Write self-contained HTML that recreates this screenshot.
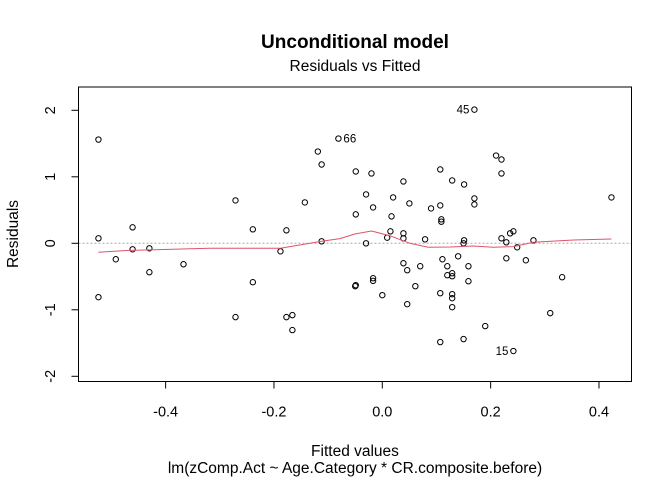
<!DOCTYPE html>
<html><head><meta charset="utf-8"><style>
body{margin:0;background:#fff;}
svg text{font-family:"Liberation Sans",Arial,sans-serif;fill:#000;}
</style></head><body>
<svg id="chart" width="672" height="480" viewBox="0 0 672 480">
<rect x="0" y="0" width="672" height="480" fill="#fff"/>
<text x="355" y="48" text-anchor="middle" font-size="19" font-weight="bold">Unconditional model</text>
<text x="355" y="71" text-anchor="middle" font-size="15.5">Residuals vs Fitted</text>
<text x="355" y="456" text-anchor="middle" font-size="15.5">Fitted values</text>
<text x="355" y="473" text-anchor="middle" font-size="15.5">lm(zComp.Act ~ Age.Category * CR.composite.before)</text>
<text transform="translate(18,234) rotate(-90)" text-anchor="middle" font-size="15.5">Residuals</text>
<g id="axes"></g>
<g id="marks"></g>
</svg>
<script>
const fittedX=[-0.524,-0.524,-0.524,-0.492,-0.461,-0.461,-0.430,-0.430,-0.367,-0.271,-0.271,-0.239,-0.239,-0.188,-0.177,-0.177,-0.166,-0.166,-0.143,-0.119,-0.112,-0.112,-0.081,
0.170,-0.049,-0.020,-0.030,-0.017,-0.049,0.020,0.017,0.015,0.009,-0.030,0.039,0.050,0.039,0.039,0.079,0.107,0.107,0.090,0.109,0.109,0.129,0.151,0.170,0.170,0.210,0.220,0.220,0.151,0.150,0.220,0.229,0.236,0.242,0.279,0.249,0.423,
-0.049,-0.050,-0.017,-0.017,0.0,0.039,0.046,0.046,0.061,0.070,0.111,0.120,0.120,0.129,0.129,0.140,0.159,0.159,0.107,0.129,0.129,0.129,0.190,0.107,0.150,0.229,0.265,0.332,0.310,0.242];
const residY=[1.56,0.075,-0.81,-0.24,0.24,-0.09,-0.075,-0.435,-0.315,0.645,-1.11,0.21,-0.585,-0.12,0.195,-1.11,-1.08,-1.305,0.615,1.38,1.185,0.03,1.575,
2.01,1.08,1.05,0.735,0.54,0.435,0.69,0.405,0.18,0.085,0.0,0.93,0.6,0.15,0.075,0.06,1.11,0.57,0.525,0.36,0.325,0.945,0.885,0.675,0.585,1.32,1.26,1.05,0.045,0.0,0.075,0.015,0.15,0.18,0.045,-0.06,0.69,
-0.63,-0.645,-0.525,-0.565,-0.78,-0.3,-0.405,-0.915,-0.645,-0.345,-0.24,-0.345,-0.48,-0.45,-0.495,-0.195,-0.345,-0.57,-0.75,-0.765,-0.825,-0.96,-1.245,-1.485,-1.44,-0.225,-0.255,-0.51,-1.05,-1.62];
const labelIdx=[22,23,89];
const labelText=["66","45","15"];
const smoothX=[-0.524,-0.476,-0.319,-0.188,-0.112,-0.078,-0.051,-0.020,0.014,0.051,0.085,0.125,0.168,0.205,0.242,0.279,0.353,0.423];
const smoothY=[-0.135,-0.11,-0.075,-0.075,0.03,0.07,0.14,0.185,0.115,0.0,-0.06,-0.055,-0.04,-0.06,-0.05,0.015,0.05,0.065];
const xTicks=[-0.4,-0.2,0.0,0.2,0.4];
const xTickLabels=["-0.4","-0.2","0.0","0.2","0.4"];
const yTicks=[-2,-1,0,1,2];
const yTickLabels=["-2","-1","0","1","2"];

const NS="http://www.w3.org/2000/svg";
const L=78.5,R=631.5,T=87,B=381.5;
const sx=v=>382.3+v*541.7;
const sy=v=>243.3-v*66.5;
function mk(tag,attrs,parent){const e=document.createElementNS(NS,tag);for(const k in attrs)e.setAttribute(k,attrs[k]);parent.appendChild(e);return e;}
const axes=document.getElementById('axes'),marks=document.getElementById('marks');

let z=mk('line',{x1:L,x2:R,y1:sy(0),y2:sy(0),stroke:'#aaa','stroke-width':1,'stroke-dasharray':'2,2'},axes);


let box=mk('rect',{x:L,y:T,width:R-L,height:B-T,fill:'none',stroke:'#000','stroke-width':1},axes);


let xl=mk('line',{x1:sx(xTicks[0]),x2:sx(xTicks[xTicks.length-1]),y1:B,y2:B,stroke:'#000'},axes);


xTicks.forEach((t,i)=>{
 const tk=mk('line',{x1:sx(t),x2:sx(t),y1:B,y2:B+7,stroke:'#000'},axes);
 
 
 const tx=mk('text',{x:sx(t),y:B+35,'text-anchor':'middle','font-size':14.5},axes);
 tx.textContent=xTickLabels[i];
 
 
});
let yl=mk('line',{x1:L,x2:L,y1:sy(yTicks[0]),y2:sy(yTicks[yTicks.length-1]),stroke:'#000'},axes);


yTicks.forEach((t,i)=>{
 const tk=mk('line',{x1:L-7,x2:L,y1:sy(t),y2:sy(t),stroke:'#000'},axes);
 
 
 const tx=mk('text',{transform:`translate(55,${sy(t)}) rotate(-90)`,'text-anchor':'middle','font-size':14.5},axes);
 tx.textContent=yTickLabels[i];
 
 
});
fittedX.forEach((x,i)=>{
 const c=mk('circle',{cx:sx(x),cy:sy(residY[i]),r:2.7,fill:'none',stroke:'#000','stroke-width':1},marks);
 
 
});
let d=smoothX.map((x,i)=>(i?'L':'M')+sx(x).toFixed(1)+','+sy(smoothY[i]).toFixed(1)).join('');
let sm=mk('path',{d:d,fill:'none',stroke:'#DF536B','stroke-width':1},marks);


labelIdx.forEach((idx,i)=>{
 const x=sx(fittedX[idx]),y=sy(residY[idx]);
 const left=labelText[i]!=="66";
 const t=mk('text',{x:left?x-5:x+5,y:y+4,'text-anchor':left?'end':'start','font-size':11.5},marks);
 t.textContent=labelText[i];
 
 
});
</script>
</body></html>
